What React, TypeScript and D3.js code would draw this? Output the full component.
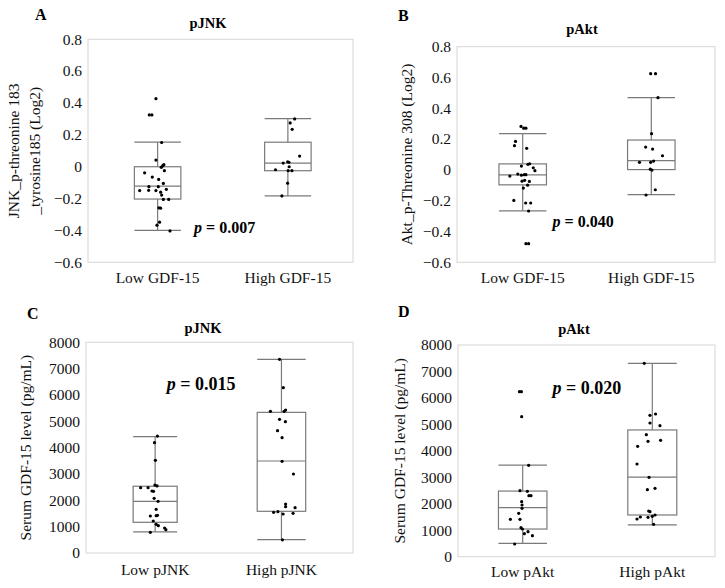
import React from "react";
import * as d3 from "d3";

// ---------- categories ----------
const groupsGDF = ["Low GDF-15", "High GDF-15"];
const groupsJNK = ["Low pJNK", "High pJNK"];
const groupsAkt = ["Low pAkt", "High pAkt"];

// ---------- box statistics [lowerWhisker, Q1, median, Q3, upperWhisker] ----------
const boxA_low = [-0.4, -0.203, -0.122, 0.0, 0.154];
const boxA_high = [-0.183, -0.025, 0.022, 0.154, 0.302];
const boxB_low = [-0.266, -0.097, -0.032, 0.039, 0.235];
const boxB_high = [-0.161, 0.002, 0.06, 0.194, 0.469];
const boxC_low = [800, 1165, 1960, 2535, 4420];
const boxC_high = [510, 1583, 3493, 5340, 7354];
const boxD_low = [500, 1045, 1852, 2480, 3460];
const boxD_high = [1200, 1576, 3010, 4790, 7308];

// ---------- individual points [value, horizontal jitter in category units] ----------
const ptsA_low = [
  [0.427, -0.013], [0.325, -0.064], [0.325, -0.044], [0.152, 0.031], [0.042, -0.013],
  [0.013, 0.048], [0.008, 0.041], [0.0, 0.033], [-0.004, 0.028], [-0.025, 0.052],
  [-0.038, -0.1], [-0.065, -0.041], [-0.08, 0.008], [-0.105, 0.044], [-0.125, -0.067],
  [-0.125, 0.005], [-0.142, 0.067], [-0.148, -0.069], [-0.15, -0.013], [-0.15, -0.138],
  [-0.16, 0.023], [-0.178, 0.031], [-0.205, 0.044], [-0.205, 0.085], [-0.258, 0.01],
  [-0.26, 0.023], [-0.348, 0.015], [-0.367, -0.005], [-0.403, 0.095],
];
const ptsA_high = [
  [0.3, 0.052], [0.275, 0.018], [0.235, 0.033], [0.067, 0.09], [0.023, -0.036],
  [0.031, -0.002], [0.028, 0.008], [0.0, 0.01], [-0.019, -0.095], [-0.025, 0.002],
  [-0.025, 0.031], [-0.103, -0.002], [-0.183, -0.046],
];
const ptsB_low = [
  [0.282, -0.013], [0.271, 0.008], [0.271, 0.025], [0.185, -0.056], [0.157, -0.064],
  [0.14, 0.031], [0.025, -0.01], [0.036, 0.041], [0.04, 0.054], [0.014, 0.082],
  [-0.005, 0.095], [-0.04, -0.1], [-0.027, -0.038], [-0.034, -0.01], [-0.031, 0.013],
  [-0.031, 0.025], [-0.073, -0.005], [-0.068, 0.015], [-0.075, 0.052], [-0.099, 0.038],
  [-0.118, 0.005], [-0.198, -0.069], [-0.215, 0.023], [-0.215, 0.062], [-0.267, 0.046],
  [-0.479, 0.025], [-0.479, 0.046],
];
const ptsB_high = [
  [0.625, -0.005], [0.625, 0.033], [0.469, 0.052], [0.235, 0.002], [0.148, -0.044],
  [0.135, 0.01], [0.092, 0.087], [0.049, -0.092], [0.049, -0.005], [0.057, 0.018],
  [0.005, -0.008], [-0.001, 0.005], [-0.129, 0.031], [-0.163, -0.041],
];
const ptsC_low = [
  [4440, 0.018], [4190, -0.005], [3520, 0.002], [2580, -0.002], [2545, 0.015],
  [2480, -0.115], [2480, -0.056], [2355, -0.025], [2342, -0.013], [2077, -0.008],
  [1963, 0.023], [1659, 0.008], [1405, -0.038], [1416, 0.008], [1431, 0.018],
  [1215, -0.015], [1090, 0.008], [1037, 0.025], [949, 0.075], [886, 0.085], [786, -0.038],
];
const ptsC_high = [
  [7354, -0.015], [6276, 0.015], [5380, -0.087], [5380, 0.021], [5429, 0.033],
  [5076, -0.015], [4985, 0.031], [4643, -0.031], [4377, 0.005], [3481, 0.005],
  [2999, 0.095], [1860, 0.033], [1759, 0.033], [1720, 0.108], [1545, -0.062],
  [1568, -0.028], [1481, 0.013], [1507, 0.092], [500, 0.008],
];
const ptsD_low = [
  [6236, -0.025], [6236, -0.01], [5291, -0.008], [3454, 0.046], [2494, -0.021],
  [2472, 0.036], [2305, 0.048], [2305, 0.064], [2079, -0.008], [1954, -0.005],
  [1829, -0.005], [1640, -0.031], [1413, -0.095], [1413, -0.021], [1096, -0.013],
  [1047, -0.002], [945, 0.041], [869, 0.013], [794, 0.075], [480, -0.062],
];
const ptsD_high = [
  [7308, -0.062], [5344, -0.018], [5392, 0.025], [5053, -0.018], [4951, 0.059],
  [4611, -0.046], [4360, -0.033], [4398, 0.064], [4171, -0.113], [3503, -0.118],
  [3000, -0.025], [2532, -0.038], [2585, 0.021], [1727, -0.028], [1701, -0.018],
  [1576, 0.021], [1425, -0.118], [1500, -0.092], [1489, -0.033], [1527, 0.0], [1225, 0.01],
];

// ---------- axis domains & ticks ----------
const yDomainLog2 = [-0.6, 0.8];
const yTicksLog2 = [-0.6, -0.4, -0.2, 0, 0.2, 0.4, 0.6, 0.8];
const yDomainGDF = [0, 8000];
const yTicksGDF = [0, 1000, 2000, 3000, 4000, 5000, 6000, 7000, 8000];

const FONT = "'Liberation Serif', 'Times New Roman', Times, serif";

const fmtLog2 = (v: number) => (Math.abs(v) < 1e-9 ? "0" : d3.format(".1f")(v));
const fmtGDF = (v: number) => d3.format("d")(v);

type PanelCfg = {
  letter: string;
  letterPos: [number, number];
  title: string;
  titlePos: [number, number];
  frame: { x0: number; x1: number; y0: number; y1: number };
  xRange: [number, number];
  yDomain: number[];
  yTicks: number[];
  fmt: (v: number) => string;
  groups: string[];
  boxes: number[][];
  points: number[][][];
  boxW: number[];
  yLabel: string[];
  yLabelX: number[];
  pText: string;
  pPos: [number, number];
  pSize: number;
  xLabelY: number;
};

const panels: PanelCfg[] = [
  {
    letter: "A",
    letterPos: [35, 20],
    title: "pJNK",
    titlePos: [208, 28],
    frame: { x0: 88, x1: 353, y0: 39.3, y1: 262.3 },
    xRange: [92.5, 353],
    yDomain: yDomainLog2,
    yTicks: yTicksLog2,
    fmt: fmtLog2,
    groups: groupsGDF,
    boxes: [boxA_low, boxA_high],
    points: [ptsA_low, ptsA_high],
    boxW: [46.5, 46.5],
    yLabel: ["JNK_p-threonine 183", "_tyrosine185 (Log2)"],
    yLabelX: [19, 39.5],
    pText: "0.007",
    pPos: [194, 233],
    pSize: 16,
    xLabelY: 283,
  },
  {
    letter: "B",
    letterPos: [398, 21],
    title: "pAkt",
    titlePos: [582, 34],
    frame: { x0: 457, x1: 715, y0: 46.7, y1: 262.3 },
    xRange: [458.4, 715.6],
    yDomain: yDomainLog2,
    yTicks: yTicksLog2,
    fmt: fmtLog2,
    groups: groupsGDF,
    boxes: [boxB_low, boxB_high],
    points: [ptsB_low, ptsB_high],
    boxW: [47.5, 47.5],
    yLabel: ["Akt_p-Threonine 308 (Log2)"],
    yLabelX: [412],
    pText: "0.040",
    pPos: [552.5, 226.7],
    pSize: 16,
    xLabelY: 283,
  },
  {
    letter: "C",
    letterPos: [27, 319],
    title: "pJNK",
    titlePos: [203, 333],
    frame: { x0: 86, x1: 353, y0: 342.3, y1: 553 },
    xRange: [92, 344.6],
    yDomain: yDomainGDF,
    yTicks: yTicksGDF,
    fmt: fmtGDF,
    groups: groupsJNK,
    boxes: [boxC_low, boxC_high],
    points: [ptsC_low, ptsC_high],
    boxW: [44, 48.5],
    yLabel: ["Serum GDF-15 level (pg/mL)"],
    yLabelX: [31],
    pText: "0.015",
    pPos: [166.7, 390],
    pSize: 18,
    xLabelY: 575,
  },
  {
    letter: "D",
    letterPos: [398, 317],
    title: "pAkt",
    titlePos: [574, 334],
    frame: { x0: 458, x1: 715, y0: 345, y1: 556.7 },
    xRange: [457.9, 717.1],
    yDomain: yDomainGDF,
    yTicks: yTicksGDF,
    fmt: fmtGDF,
    groups: groupsAkt,
    boxes: [boxD_low, boxD_high],
    points: [ptsD_low, ptsD_high],
    boxW: [48.5, 49],
    yLabel: ["Serum GDF-15 level (pg/mL)"],
    yLabelX: [404.5],
    pText: "0.020",
    pPos: [552.5, 394.3],
    pSize: 18,
    xLabelY: 577,
  },
];

const BOX_COLOR = "#7a7a7a";
const FRAME_COLOR = "#d6d6d6";

function Panel({ p }: { p: PanelCfg }) {
  const { frame } = p;
  const y = d3.scaleLinear().domain(p.yDomain).range([frame.y1, frame.y0]);
  const x = d3.scaleLinear().domain([-0.5, 1.5]).range(p.xRange);
  const yMid = (frame.y0 + frame.y1) / 2;
  return (
    <g>
      <text x={p.letterPos[0]} y={p.letterPos[1]} fontFamily={FONT} fontWeight="bold" fontSize={16}>
        {p.letter}
      </text>
      <text
        x={p.titlePos[0]}
        y={p.titlePos[1]}
        textAnchor="middle"
        fontFamily={FONT}
        fontWeight="bold"
        fontSize={14.5}
      >
        {p.title}
      </text>
      <rect
        x={frame.x0}
        y={frame.y0}
        width={frame.x1 - frame.x0}
        height={frame.y1 - frame.y0}
        fill="none"
        stroke={FRAME_COLOR}
        strokeWidth={1}
      />
      {p.yTicks.map((t) => (
        <text
          key={t}
          x={frame.x0 - 6}
          y={y(t)}
          dy="0.34em"
          textAnchor="end"
          fontFamily={FONT}
          fontSize={15.5}
          fill="#111"
        >
          {p.fmt(t)}
        </text>
      ))}
      {p.yLabel.map((line, i) => (
        <text
          key={i}
          transform={`translate(${p.yLabelX[i]},${yMid}) rotate(-90)`}
          textAnchor="middle"
          fontFamily={FONT}
          fontSize={15.5}
          fill="#111"
        >
          {line}
        </text>
      ))}
      {p.groups.map((g, gi) => {
        const cx = x(gi);
        const [lo, q1, med, q3, hi] = p.boxes[gi];
        const w = p.boxW[gi];
        return (
          <g key={g}>
            <line x1={cx} x2={cx} y1={y(hi)} y2={y(q3)} stroke={BOX_COLOR} strokeWidth={1.2} />
            <line x1={cx} x2={cx} y1={y(q1)} y2={y(lo)} stroke={BOX_COLOR} strokeWidth={1.2} />
            <line x1={cx - w / 2} x2={cx + w / 2} y1={y(hi)} y2={y(hi)} stroke={BOX_COLOR} strokeWidth={1.2} />
            <line x1={cx - w / 2} x2={cx + w / 2} y1={y(lo)} y2={y(lo)} stroke={BOX_COLOR} strokeWidth={1.2} />
            <rect
              x={cx - w / 2}
              y={y(q3)}
              width={w}
              height={y(q1) - y(q3)}
              fill="none"
              stroke={BOX_COLOR}
              strokeWidth={1.2}
            />
            <line x1={cx - w / 2} x2={cx + w / 2} y1={y(med)} y2={y(med)} stroke={BOX_COLOR} strokeWidth={1.2} />
            {p.points[gi].map((pt, i) => (
              <circle key={i} cx={x(gi + pt[1])} cy={y(pt[0])} r={1.6} fill="#000" />
            ))}
            <text
              x={cx}
              y={p.xLabelY}
              textAnchor="middle"
              fontFamily={FONT}
              fontSize={15.5}
              fill="#111"
            >
              {g}
            </text>
          </g>
        );
      })}
      <text x={p.pPos[0]} y={p.pPos[1]} fontFamily={FONT} fontWeight="bold" fontSize={p.pSize}>
        <tspan fontStyle="italic">p</tspan>
        <tspan> = {p.pText}</tspan>
      </text>
    </g>
  );
}

export default function App() {
  return (
    <div style={{ position: "absolute", left: 0, top: 0, background: "#fff" }}>
      <svg width={725} height={588} viewBox="0 0 725 588" style={{ display: "block" }}>
        <rect x={0} y={0} width={725} height={588} fill="#fff" />
        {panels.map((p) => (
          <Panel key={p.letter} p={p} />
        ))}
      </svg>
    </div>
  );
}
